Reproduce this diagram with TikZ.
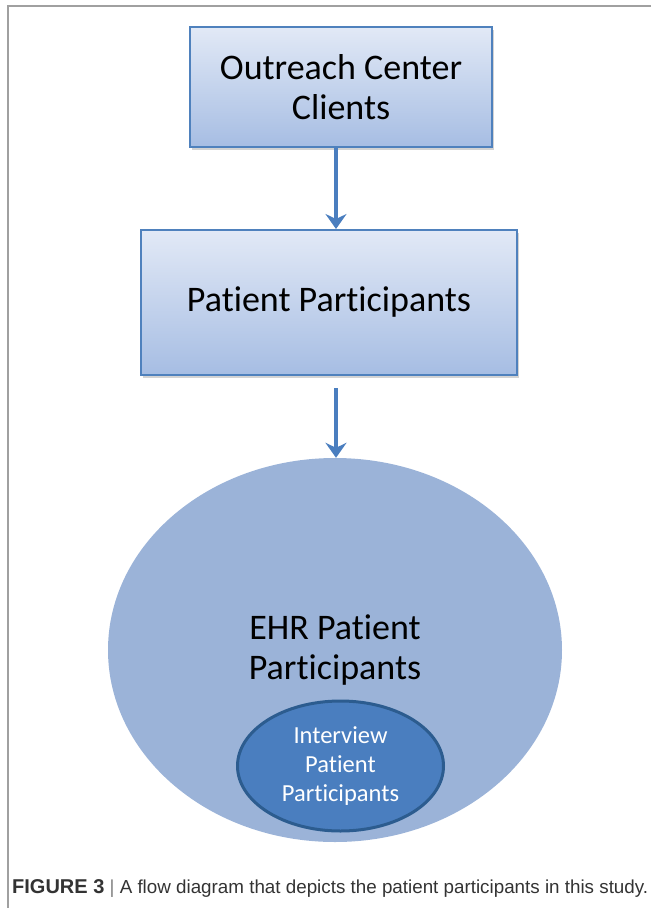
\documentclass[tikz,border=0pt]{standalone}
\usepackage{fontspec}
\setmainfont[Ligatures=NoCommon]{Carlito}
\newfontfamily\capfont{Liberation Sans}
\usetikzlibrary{shapes.geometric,arrows.meta,shadows}
\definecolor{boxtop}{HTML}{E2E9F6}
\definecolor{boxbot}{HTML}{A6BDE3}
\definecolor{boxedge}{HTML}{4F81BD}
\definecolor{arrcol}{HTML}{4A7EBF}
\definecolor{bigell}{HTML}{9BB3D8}
\definecolor{smallell}{HTML}{4A7EBF}
\definecolor{smalledge}{HTML}{2C5C8F}
\definecolor{framecol}{HTML}{A0A0A0}
\definecolor{capcol}{HTML}{333333}
\tikzset{
  boxnode/.style={rectangle, draw=boxedge, line width=2pt, top color=boxtop, bottom color=boxbot,
    inner sep=0pt, align=center, font=\fontsize{36}{40}\selectfont,
    drop shadow={shadow xshift=2pt, shadow yshift=-3pt, opacity=0.35}},
  arr/.style={draw=arrcol, line width=4pt, -{Stealth[length=15pt,width=21pt,inset=5pt]}},
}
\begin{document}
\begin{tikzpicture}[x=1pt,y=-1pt]
\useasboundingbox (0,0) rectangle (651,908);
\draw[framecol, line width=1.2pt] (651,6) -- (8,6) -- (8,908);
\node[boxnode, minimum width=302pt, minimum height=120pt] (box1) at (341,87) {Outreach Center\\Clients};
\node[boxnode, minimum width=376pt, minimum height=145pt] (box2) at (329,302.5) {Patient Participants};
\node[ellipse, fill=bigell, minimum width=454pt, minimum height=384pt, inner sep=0pt, align=center,
  font=\fontsize{36}{40}\selectfont] (big) at (335,650) {EHR Patient\\Participants};
\node[ellipse, fill=smallell, draw=smalledge, line width=3pt, minimum width=206pt, minimum height=130pt,
  inner sep=0pt, align=center, text=white, font=\fontsize{24.5}{29}\selectfont] (small) at (340.5,766) {Interview\\Patient\\Participants};
\coordinate (a2s) at (336,388);
\draw[arr] (box1.south -| 336,0) -- (box2.north -| 336,0);
\draw[arr] (a2s) -- (big.north -| 336,0);
\node[anchor=base west, inner sep=0pt, text=capcol, font=\capfont\fontsize{18.8}{20}\selectfont] (cap) at (12,893)
  {\textbf{\fontsize{20}{20}\selectfont FIGURE 3} {\color{gray}|} A flow diagram that depicts the patient participants in this study.};
\end{tikzpicture}
\end{document}
